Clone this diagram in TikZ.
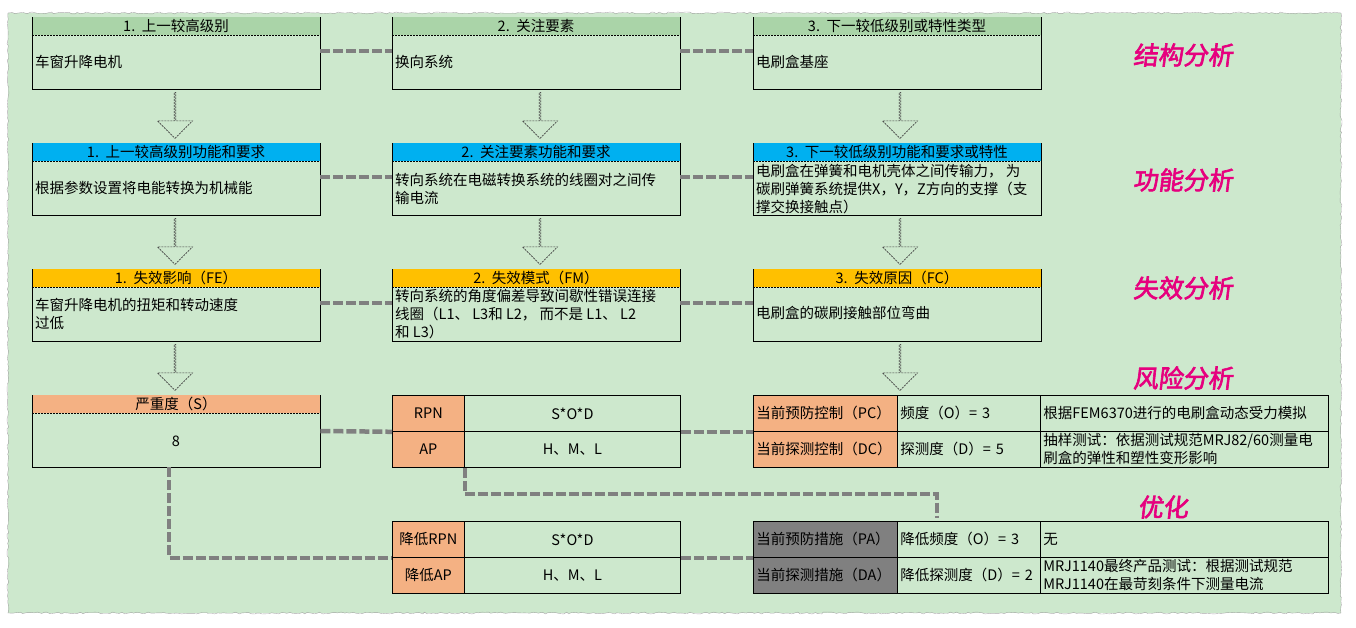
\documentclass[tikz,border=0pt]{standalone}
\usepackage{fontspec}
\setmainfont{Noto Sans CJK SC}
\newfontfamily\tagfont[FakeBold=2.5,FakeSlant=0.12]{Noto Sans CJK SC}
\usepackage{tikz}
\usetikzlibrary{shapes.arrows,decorations.pathmorphing}
\usepackage{xcolor}
\definecolor{bggreen}{RGB}{205,232,205}
\definecolor{hgreen}{RGB}{170,212,168}
\definecolor{hblue}{RGB}{0,176,240}
\definecolor{horange}{RGB}{255,192,0}
\definecolor{hpeach}{RGB}{244,177,131}
\definecolor{hgray}{RGB}{128,128,128}
\definecolor{linkgray}{RGB}{128,128,128}
\definecolor{tagpink}{RGB}{230,0,126}
\newcommand{\fs}{\fontsize{14.5}{18}\selectfont}
\tikzset{
  box/.style={rectangle,draw,line width=.8pt,fill=bggreen,minimum width=288pt,minimum height=72pt,inner sep=0pt},
  hdr/.style={rectangle,anchor=north,minimum width=287pt,minimum height=18pt,inner sep=0pt},
  hline/.style={dash pattern=on 2pt off 1pt,line width=.6pt},
  body/.style={anchor=west,inner sep=0pt,align=left},
  cell/.style={rectangle,draw,line width=.8pt,fill=bggreen,anchor=north west,minimum height=36pt,inner xsep=3pt,inner ysep=0pt,text width=#1},
  ctr/.style={align=center},
  lft/.style={align=left},
  link/.style={draw=linkgray,line width=4.5pt,dash pattern=on 10pt off 3pt},
  darrow/.style={single arrow,shape border rotate=270,draw=black!75,dash pattern=on 2pt off 1pt,line width=.6pt,minimum height=46pt,minimum width=35pt,single arrow head extend=7pt,inner sep=0pt},
  tag/.style={text=tagpink,font=\tagfont\fontsize{25}{28}\selectfont}
}
\begin{document}
\begin{tikzpicture}[x=1pt,y=-1pt,font=\fs]
\useasboundingbox (0,0) rectangle (1356,628);
% sheet
\fill[bggreen] (8,13) rectangle (1341,613);
\draw[gray!70,decorate,decoration={random steps,segment length=3pt,amplitude=1pt}] (8,13) rectangle (1341,613);

% structure row
\node[box] (s1) at (176,53) {}; \node[hdr,fill=hgreen] (s1h) at ([yshift=-.4pt]s1.north) {1.~~上一较高级别};
\node[box] (s2) at (536,53) {}; \node[hdr,fill=hgreen] (s2h) at ([yshift=-.4pt]s2.north) {2.~~关注要素};
\node[box] (s3) at (897,53) {}; \node[hdr,fill=hgreen] (s3h) at ([yshift=-.4pt]s3.north) {3.~~下一较低级别或特性类型};
\node[body] (s1t) at (35,62) {车窗升降电机};
\node[body] (s2t) at (395,62) {换向系统};
\node[body] (s3t) at (756,62) {电刷盒基座};

% function row
\node[box] (f1) at (176,179) {}; \node[hdr,fill=hblue] (f1h) at ([yshift=-.4pt]f1.north) {1.~~上一较高级别功能和要求};
\node[box] (f2) at (536,179) {}; \node[hdr,fill=hblue] (f2h) at ([yshift=-.4pt]f2.north) {2.~~关注要素功能和要求};
\node[box] (f3) at (897,179) {}; \node[hdr,fill=hblue] (f3h) at ([yshift=-.4pt]f3.north) {3.~~下一较低级别功能和要求或特性};
\node[body] (f1t) at (35,188) {根据参数设置将电能转换为机械能};
\node[body] (f2t) at (395,189) {转向系统在电磁转换系统的线圈对之间传\\输电流};
\node[body] (f3t) at (756,189) {电刷盒在弹簧和电机壳体之间传输力，~为\\碳刷弹簧系统提供X，Y，Z方向的支撑（支\\撑交换接触点）};

% failure row
\node[box] (e1) at (176,305) {}; \node[hdr,fill=horange] (e1h) at ([yshift=-.4pt]e1.north) {1.~~失效影响（FE）};
\node[box] (e2) at (536,305) {}; \node[hdr,fill=horange] (e2h) at ([yshift=-.4pt]e2.north) {2.~~失效模式（FM）};
\node[box] (e3) at (897,305) {}; \node[hdr,fill=horange] (e3h) at ([yshift=-.4pt]e3.north) {3.~~失效原因（FC）};
\node[body] (e1t) at (35,314) {车窗升降电机的扭矩和转动速度\\过低};
\node[body] (e2t) at (395,314) {转向系统的角度偏差导致间歇性错误连接\\线圈（L1、~L3和~L2，~而不是~L1、~L2\\和~L3）};
\node[body] (e3t) at (756,313) {电刷盒的碳刷接触部位弯曲};

\foreach \h in {s1h,s2h,s3h,f1h,f2h,f3h,e1h,e2h,e3h} \draw[hline] (\h.south west)--(\h.south east);

% risk row
\node[box] (sv) at (176,431) {}; \node[hdr,fill=hpeach] (svh) at ([yshift=-.4pt]sv.north) {严重度（S）};
\draw[hline] (svh.south west)--(svh.south east);
\node[inner sep=0pt] (svt) at (176,441) {8};
\node[cell=66pt,ctr,fill=hpeach] (rpn) at (392,395) {RPN};
\node[cell=210pt,ctr] (rpnv) at (464,395) {S*O*D};
\node[cell=66pt,ctr,fill=hpeach] (ap) at (392,431) {AP};
\node[cell=210pt,ctr] (apv) at (464,431) {H、M、L};
\node[cell=138pt,lft,fill=hpeach] (pc) at (753,395) {当前预防控制（PC）};
\node[cell=137pt,lft] (pco) at (897,395) {频度（O）=~3};
\node[cell=282pt,lft] (pcm) at (1040,395) {根据FEM6370进行的电刷盒动态受力模拟};
\node[cell=138pt,lft,fill=hpeach] (dc) at (753,431) {当前探测控制（DC）};
\node[cell=137pt,lft] (dco) at (897,431) {探测度（D）=~5};
\node[cell=282pt,lft] (dcm) at (1040,431) {抽样测试：依据测试规范MRJ82/60测量电\\刷盒的弹性和塑性变形影响};

% optimisation row
\node[cell=66pt,ctr,fill=hpeach] (rpn2) at (392,521) {降低RPN};
\node[cell=210pt,ctr] (rpn2v) at (464,521) {S*O*D};
\node[cell=66pt,ctr,fill=hpeach] (ap2) at (392,557) {降低AP};
\node[cell=210pt,ctr] (ap2v) at (464,557) {H、M、L};
\node[cell=138pt,lft,fill=hgray] (pa) at (753,521) {当前预防措施（PA）};
\node[cell=137pt,lft] (pao) at (897,521) {降低频度（O）=~3};
\node[cell=282pt,lft] (pam) at (1040,521) {无};
\node[cell=138pt,lft,fill=hgray] (da) at (753,557) {当前探测措施（DA）};
\node[cell=137pt,lft] (dao) at (897,557) {降低探测度（D）=~2};
\node[cell=282pt,lft] (dam) at (1040,557) {MRJ1140最终产品测试：根据测试规范\\MRJ1140在最苛刻条件下测量电流};

% arrows between rows
\node[darrow] (a1) at (175,115) {}; \node[darrow] (a2) at (540,115) {}; \node[darrow] (a3) at (900,115) {};
\node[darrow] (b1) at (175,241) {}; \node[darrow] (b2) at (540,241) {}; \node[darrow] (b3) at (900,241) {};
\node[darrow] (c1) at (175,367) {}; \node[darrow] (c3) at (900,367) {};

% dashed links
\draw[link] ([yshift=2pt]s1.east)--([yshift=2pt]s2.west); \draw[link] ([yshift=2pt]s2.east)--([yshift=2pt]s3.west);
\draw[link] ([yshift=2pt]f1.east)--([yshift=2pt]f2.west); \draw[link] ([yshift=2pt]f2.east)--([yshift=2pt]f3.west);
\draw[link] ([yshift=2pt]e1.east)--([yshift=2pt]e2.west); \draw[link] ([yshift=2pt]e2.east)--([yshift=2pt]e3.west);
\draw[link] (sv.east)--(rpn.south west); \draw[link] (rpnv.south east)--(pc.south west);
\draw[link] (rpn2v.south east)--(pa.south west);
\draw[link] ([xshift=-7pt]sv.south) |- (rpn2.south west);
\draw[link] (ap.south east)--++(0,26) -| ([xshift=-32pt,yshift=3pt]pao.north);

% analysis step labels
\node[tag] (t1) at (1183,55) {结构分析};
\node[tag] (t2) at (1183,180) {功能分析};
\node[tag] (t3) at (1183,288) {失效分析};
\node[tag] (t4) at (1183,378) {风险分析};
\node[tag] (t5) at (1163,507) {优化};
\end{tikzpicture}
\end{document}
